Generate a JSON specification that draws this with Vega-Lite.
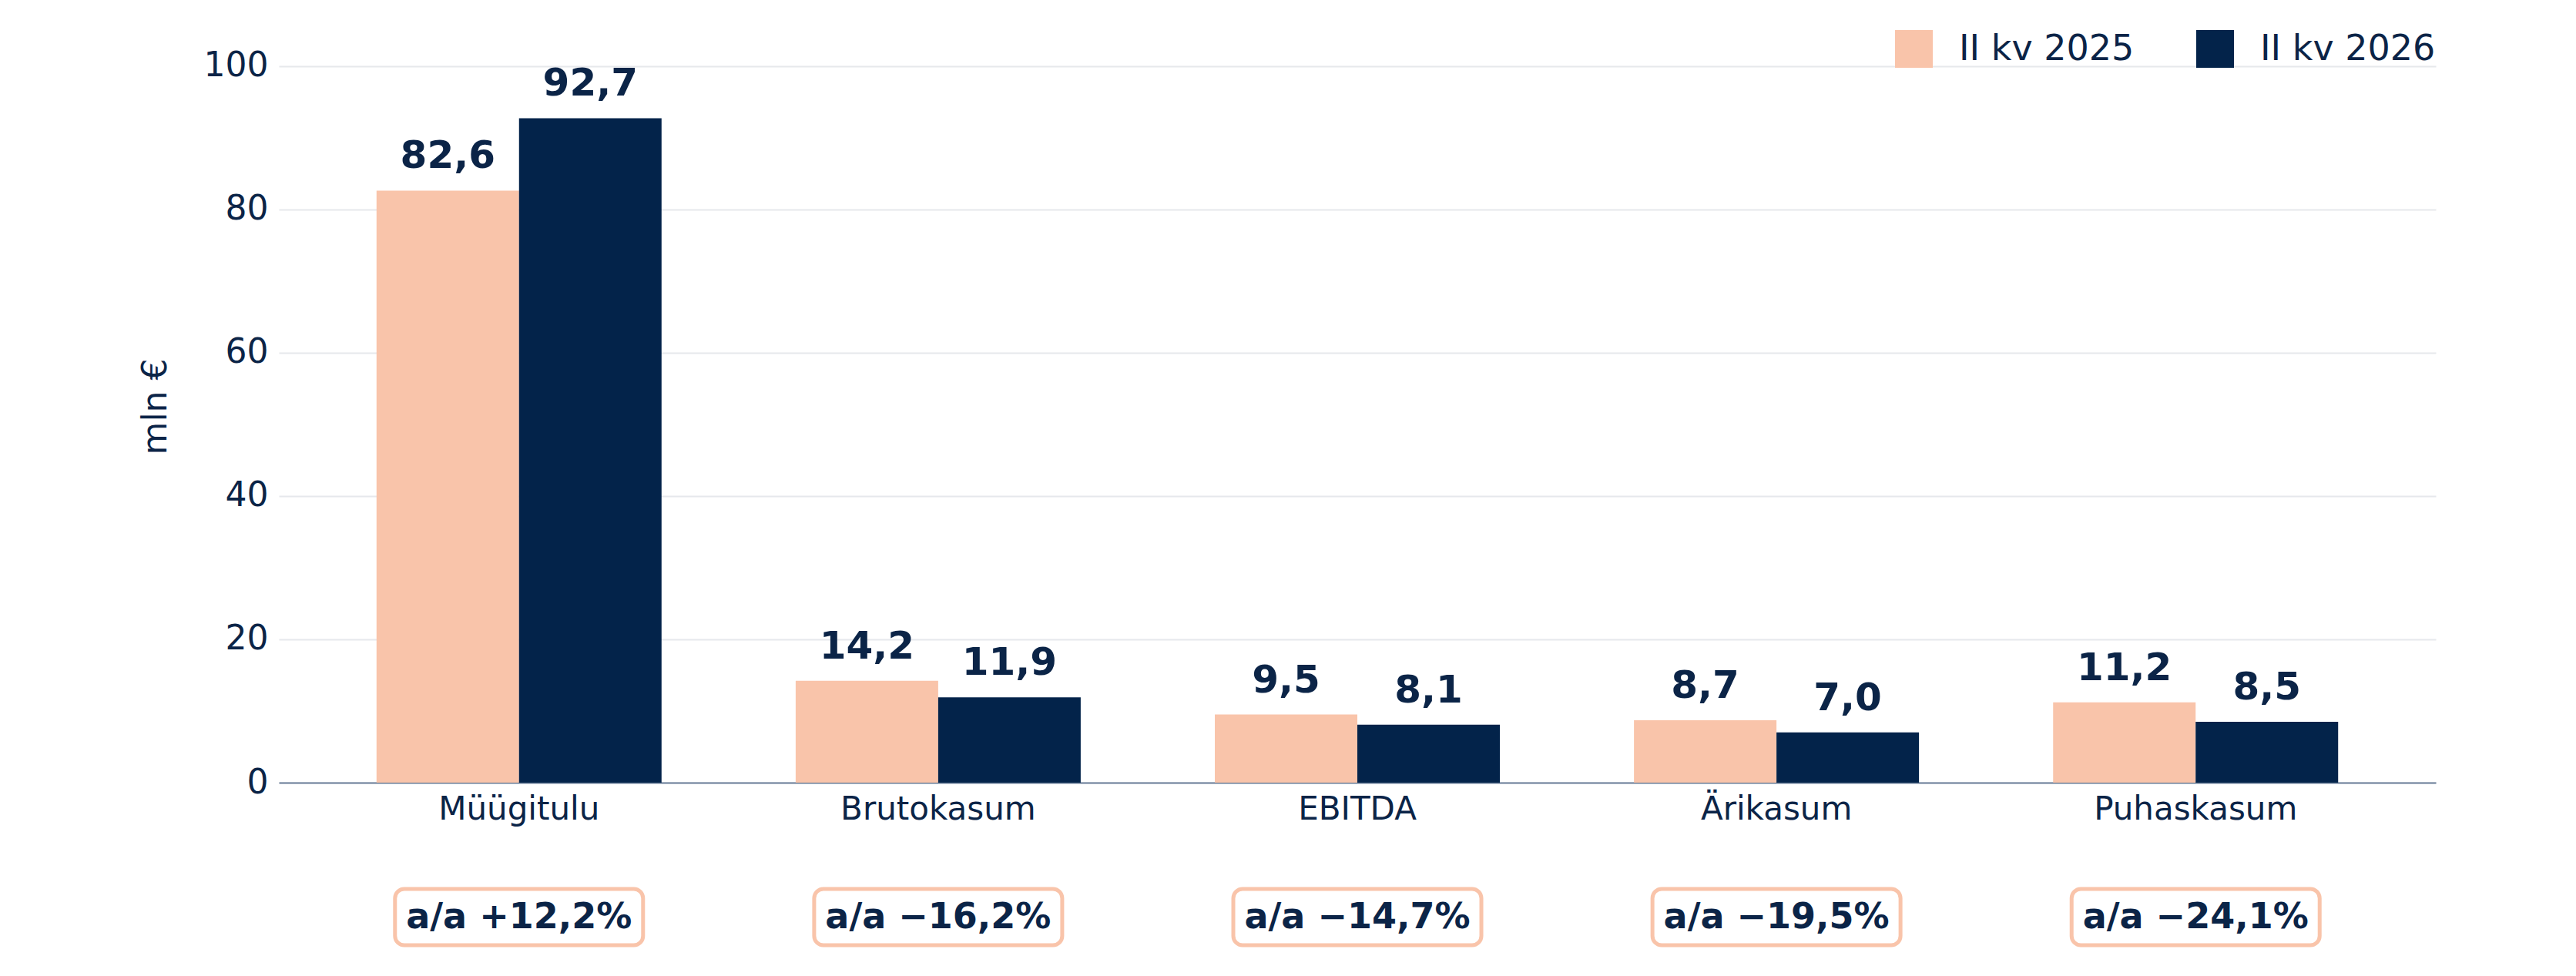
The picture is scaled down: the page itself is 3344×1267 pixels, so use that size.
{
  "$schema": "https://vega.github.io/schema/vega-lite/v6.json",
  "background": "white",
  "padding": {"left": 180, "top": 39, "right": 160, "bottom": 10},
  "spacing": 80,
  "config": {
    "view": {"stroke": null},
    "font": "DejaVu Sans",
    "axis": {"labelColor": "#0b2447", "titleColor": "#0b2447", "labelFont": "DejaVu Sans", "titleFont": "DejaVu Sans"}
  },
  "datasets": {
    "bars": [
      {"cat": "Müügitulu", "period": "II kv 2025", "value": 82.6, "label": "82,6"},
      {"cat": "Müügitulu", "period": "II kv 2026", "value": 92.7, "label": "92,7"},
      {"cat": "Brutokasum", "period": "II kv 2025", "value": 14.2, "label": "14,2"},
      {"cat": "Brutokasum", "period": "II kv 2026", "value": 11.9, "label": "11,9"},
      {"cat": "EBITDA", "period": "II kv 2025", "value": 9.5, "label": "9,5"},
      {"cat": "EBITDA", "period": "II kv 2026", "value": 8.1, "label": "8,1"},
      {"cat": "Ärikasum", "period": "II kv 2025", "value": 8.7, "label": "8,7"},
      {"cat": "Ärikasum", "period": "II kv 2026", "value": 7.0, "label": "7,0"},
      {"cat": "Puhaskasum", "period": "II kv 2025", "value": 11.2, "label": "11,2"},
      {"cat": "Puhaskasum", "period": "II kv 2026", "value": 8.5, "label": "8,5"}
    ],
    "badges": [
      {"cat": "Müügitulu", "text": "a/a +12,2%"},
      {"cat": "Brutokasum", "text": "a/a −16,2%"},
      {"cat": "EBITDA", "text": "a/a −14,7%"},
      {"cat": "Ärikasum", "text": "a/a −19,5%"},
      {"cat": "Puhaskasum", "text": "a/a −24,1%"}
    ]
  },
  "vconcat": [
    {
      "width": 2800,
      "height": 977,
      "data": {"name": "bars"},
      "encoding": {
        "x": {
          "field": "cat", "type": "nominal", "sort": null, "title": null,
          "scale": {"paddingInner": 0.32, "paddingOuter": 0.233},
          "axis": {"labelAngle": 0, "labelFontSize": 42, "labelLimit": 0, "labelPadding": 14, "ticks": false, "domainColor": "#6b7f99", "domainWidth": 2}
        },
        "xOffset": {"field": "period", "type": "nominal"},
        "y": {
          "field": "value", "type": "quantitative", "title": "mln €",
          "scale": {"domain": [0, 105], "nice": false},
          "axis": {"values": [0, 20, 40, 60, 80, 100], "labelFontSize": 44, "titleFontSize": 44, "titleFontWeight": "normal", "titlePadding": 40, "domain": false, "ticks": false, "labelPadding": 14, "gridColor": "#e6e8ec", "gridWidth": 2}
        }
      },
      "layer": [
        {
          "mark": {"type": "bar"},
          "encoding": {
            "color": {
              "field": "period", "type": "nominal", "title": null,
              "scale": {"domain": ["II kv 2025", "II kv 2026"], "range": ["#f9c4aa", "#03234a"]},
              "legend": {"orient": "top-right", "direction": "horizontal", "symbolType": "square", "symbolSize": 2400, "symbolStrokeWidth": 0, "labelFontSize": 46, "labelLimit": 0, "labelColor": "#0b2447", "columnPadding": 80, "labelOffset": 34, "offset": 0, "padding": 0}
            }
          }
        },
        {
          "mark": {"type": "text", "dy": -44, "fontSize": 50, "fontWeight": "bold", "color": "#0b2447"},
          "encoding": {"text": {"field": "label"}}
        }
      ]
    },
    {
      "width": 2800,
      "height": 73,
      "data": {"name": "badges"},
      "encoding": {
        "x": {"field": "cat", "type": "nominal", "sort": null, "axis": null, "scale": {"paddingInner": 0.32, "paddingOuter": 0.233}}
      },
      "layer": [
        {"mark": {"type": "bar", "width": 322, "cornerRadius": 12, "fill": "white", "stroke": "#f9c4aa", "strokeWidth": 5}},
        {"mark": {"type": "text", "fontSize": 46, "fontWeight": "bold", "color": "#0b2447"}, "encoding": {"text": {"field": "text"}}}
      ]
    }
  ]
}
